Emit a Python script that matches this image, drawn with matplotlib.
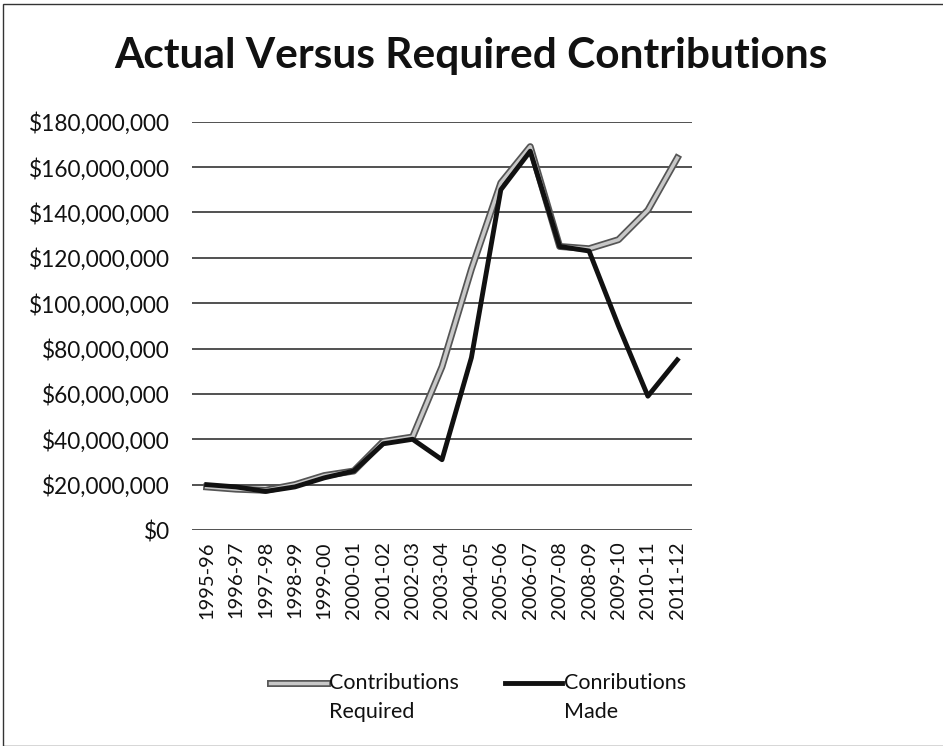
import matplotlib
matplotlib.use("Agg")
import matplotlib.pyplot as plt
import matplotlib.patheffects as pe
from matplotlib.ticker import FuncFormatter
from matplotlib.lines import Line2D

categories = ["1995-96", "1996-97", "1997-98", "1998-99", "1999-00", "2000-01",
              "2001-02", "2002-03", "2003-04", "2004-05", "2005-06", "2006-07",
              "2007-08", "2008-09", "2009-10", "2010-11", "2011-12"]
required = [19e6, 18e6, 17.5e6, 20e6, 24e6, 26e6, 39e6, 41e6, 72e6, 115e6,
            153e6, 169e6, 125e6, 124e6, 128e6, 141e6, 164e6]
made = [20e6, 19e6, 17e6, 19e6, 23e6, 26e6, 38e6, 40e6, 31e6, 76e6,
        150e6, 167e6, 125e6, 123e6, 90e6, 59e6, 75e6]
yticks = list(range(0, 180000001, 20000000))
legend_labels = ["Contributions\nRequired", "Conributions\nMade"]

plt.rcParams['font.family'] = ['Lato', 'DejaVu Sans']

W, H = 943, 746
fig = plt.figure(figsize=(W / 100, H / 100), dpi=100)
ax = fig.add_axes([192 / W, 1 - 530 / H, 500 / W, (530 - 121.7) / H])

x = list(range(len(categories)))
req_fx = [pe.Stroke(linewidth=5, foreground='#555555'), pe.Normal()]
ax.plot(x, required, color='#c8c8c8', lw=2.5, path_effects=req_fx, zorder=3)
ax.plot(x, made, color='#111111', lw=3.5, zorder=4)

ax.set_xlim(-0.5, len(categories) - 0.5)
ax.set_ylim(0, 180000000)
ax.set_yticks(yticks)
ax.yaxis.set_major_formatter(FuncFormatter(lambda v, p: "${:,.0f}".format(v)))
ax.set_xticks(x)
ax.set_xticklabels(categories, rotation=90)
ax.grid(axis='y', color='#333333', lw=1.2)
ax.set_axisbelow(True)
for s in ['top', 'right', 'left', 'bottom']:
    ax.spines[s].set_visible(False)
ax.tick_params(axis='both', length=0, colors='#111111')
ax.tick_params(axis='y', pad=16, labelsize=16.3)
ax.tick_params(axis='x', pad=8, labelsize=14.5)

fig.text(471 / W, 1 - 56 / H, "Actual Versus Required Contributions",
         ha='center', va='center', fontsize=30.5, fontweight='bold', color='#111111')

# legend drawn manually, Excel style (handle aligned with first text line)
handles = [dict(color='#c8c8c8', lw=2.5, path_effects=req_fx),
           dict(color='#111111', lw=3.5)]
starts = [270, 505]
for (hx, kw, lab) in zip(starts, handles, legend_labels):
    fig.add_artist(Line2D([hx / W, (hx + 57) / W], [1 - 683 / H, 1 - 683 / H],
                          transform=fig.transFigure, **kw))
    fig.text((hx + 59) / W, 1 - 673 / H, lab, ha='left', va='top',
             fontsize=15.5, color='#111111', linespacing=1.55)

fig.patches.append(plt.Rectangle((3 / W, 0), 1, 1 - 4 / H, transform=fig.transFigure,
                                 fill=False, edgecolor='#333333', lw=1))

fig.savefig("out.png", dpi=100)
